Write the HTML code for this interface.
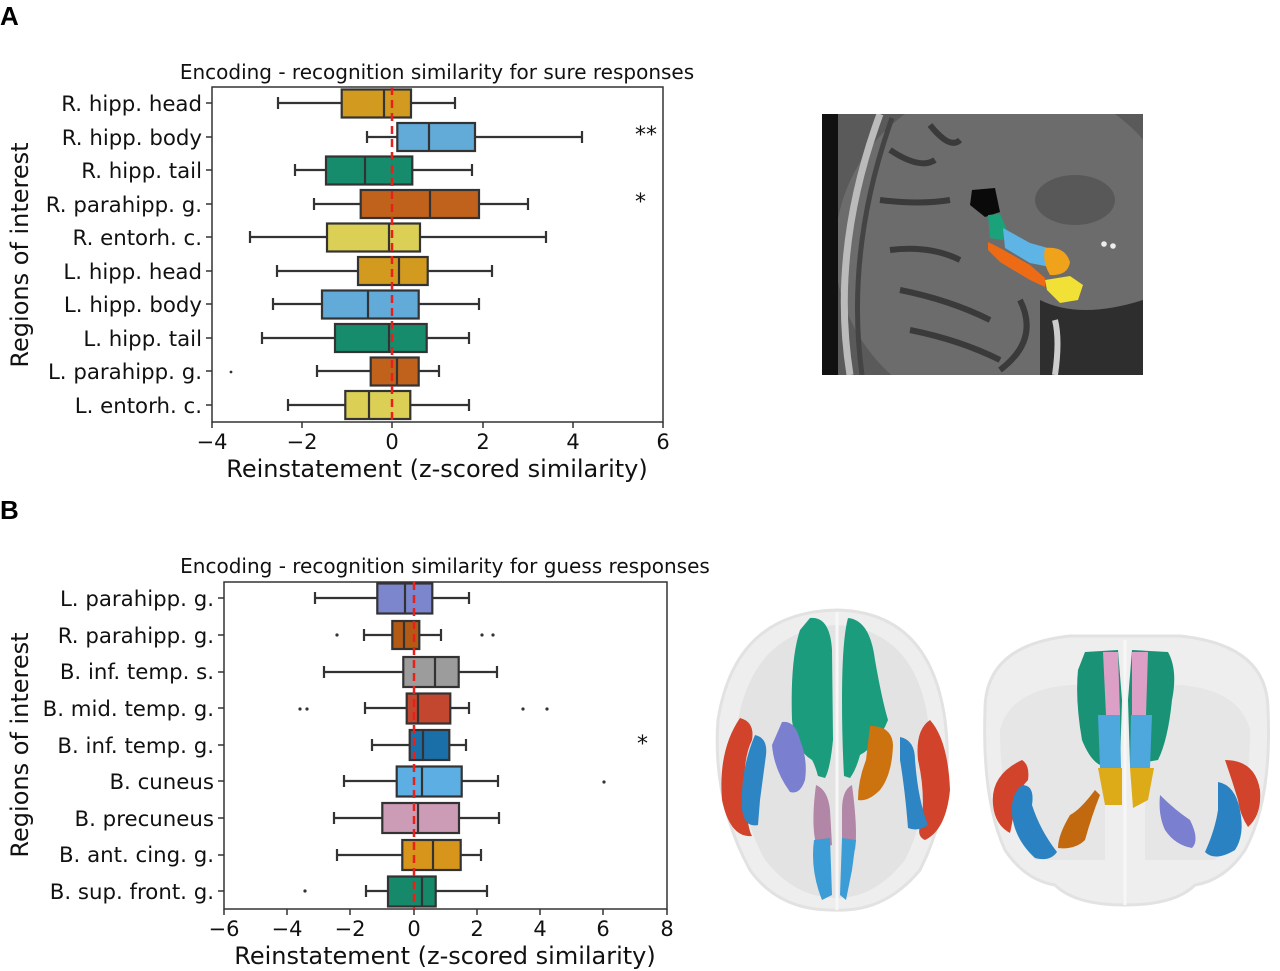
<!DOCTYPE html>
<html><head><meta charset="utf-8"><style>
html,body{margin:0;padding:0;background:#fff;}
svg{display:block;font-family:"DejaVu Sans","Liberation Sans",sans-serif;}
.lbl{font-size:21.3px;fill:#111;text-anchor:end;}
.tk{font-size:21px;fill:#111;text-anchor:middle;}
.bx{stroke:#333;stroke-width:2.2;}
.wh{stroke:#333;stroke-width:2.2;fill:none;}
</style></head><body>
<svg width="1280" height="971" viewBox="0 0 1280 971">
<defs><clipPath id="mc"><rect x="822" y="114" width="321" height="261"/></clipPath></defs>
<text x="0" y="25" font-size="26" font-weight="bold" font-family="Liberation Sans">A</text>
<text x="0" y="519" font-size="26" font-weight="bold" font-family="Liberation Sans">B</text>

<!-- Plot A -->
<text x="437" y="79" font-size="20" text-anchor="middle" fill="#111">Encoding - recognition similarity for sure responses</text>
<rect x="212" y="87" width="451" height="335" fill="none" stroke="#333" stroke-width="1.5"/>
<g class="lbl">
<text x="202" y="111">R. hipp. head</text>
<text x="202" y="145">R. hipp. body</text>
<text x="202" y="178">R. hipp. tail</text>
<text x="202" y="212">R. parahipp. g.</text>
<text x="202" y="245">R. entorh. c.</text>
<text x="202" y="279">L. hipp. head</text>
<text x="202" y="312">L. hipp. body</text>
<text x="202" y="346">L. hipp. tail</text>
<text x="202" y="379">L. parahipp. g.</text>
<text x="202" y="413">L. entorh. c.</text>
</g>
<g stroke="#333" stroke-width="1.5">
<line x1="206" x2="212" y1="103" y2="103"/><line x1="206" x2="212" y1="137" y2="137"/><line x1="206" x2="212" y1="170" y2="170"/><line x1="206" x2="212" y1="204" y2="204"/><line x1="206" x2="212" y1="237" y2="237"/><line x1="206" x2="212" y1="271" y2="271"/><line x1="206" x2="212" y1="304" y2="304"/><line x1="206" x2="212" y1="338" y2="338"/><line x1="206" x2="212" y1="371" y2="371"/><line x1="206" x2="212" y1="405" y2="405"/>
<line x1="212" x2="212" y1="422" y2="428"/><line x1="302" x2="302" y1="422" y2="428"/><line x1="392" x2="392" y1="422" y2="428"/><line x1="483" x2="483" y1="422" y2="428"/><line x1="573" x2="573" y1="422" y2="428"/><line x1="663" x2="663" y1="422" y2="428"/>
</g>
<g class="tk">
<text x="212" y="449">−4</text><text x="302" y="449">−2</text><text x="392" y="449">0</text><text x="483" y="449">2</text><text x="573" y="449">4</text><text x="663" y="449">6</text>
</g>
<text x="437" y="477" font-size="24" text-anchor="middle" fill="#111">Reinstatement (z-scored similarity)</text>
<text transform="translate(28,255) rotate(-90)" font-size="24" text-anchor="middle" fill="#111">Regions of interest</text>

<g>
<path class="wh" d="M278 103H341M411 103H455M278 97V109M455 97V109"/><rect class="bx" x="341.7" y="89.5" width="69.3" height="28" fill="#d29a1e"/><line class="wh" x1="384" x2="384" y1="89.5" y2="117.5"/>
<path class="wh" d="M367 137H397M475 137H582M367 131V143M582 131V143"/><rect class="bx" x="397.3" y="123" width="77.7" height="28" fill="#62abd9"/><line class="wh" x1="429" x2="429" y1="123" y2="151"/>
<path class="wh" d="M295 170H326M412 170H472M295 164V176M472 164V176"/><rect class="bx" x="326" y="156.5" width="86.3" height="28" fill="#168c6c"/><line class="wh" x1="365" x2="365" y1="156.5" y2="184.5"/>
<path class="wh" d="M314 204H361M479 204H528M314 198V210M528 198V210"/><rect class="bx" x="360.7" y="190" width="118.3" height="28" fill="#c1621c"/><line class="wh" x1="430" x2="430" y1="190" y2="218"/>
<path class="wh" d="M250 237H327M420 237H546M250 231V243M546 231V243"/><rect class="bx" x="327" y="223.5" width="93" height="28" fill="#dbd055"/><line class="wh" x1="389" x2="389" y1="223.5" y2="251.5"/>
<path class="wh" d="M277 271H358M428 271H492M277 265V277M492 265V277"/><rect class="bx" x="358" y="257" width="69.7" height="28" fill="#d29a1e"/><line class="wh" x1="399" x2="399" y1="257" y2="285"/>
<path class="wh" d="M273 304H322M419 304H479M273 298V310M479 298V310"/><rect class="bx" x="322" y="290.5" width="96.7" height="28" fill="#62abd9"/><line class="wh" x1="368" x2="368" y1="290.5" y2="318.5"/>
<path class="wh" d="M262 338H335M427 338H469M262 332V344M469 332V344"/><rect class="bx" x="335" y="324" width="91.7" height="28" fill="#168c6c"/><line class="wh" x1="389" x2="389" y1="324" y2="352"/>
<path class="wh" d="M317 371H371M419 371H439M317 365V377M439 365V377"/><rect class="bx" x="370.7" y="357.5" width="48" height="28" fill="#c1621c"/><line class="wh" x1="397" x2="397" y1="357.5" y2="385.5"/><circle cx="231" cy="372" r="1.4" fill="#333"/>
<path class="wh" d="M288 405H345M410 405H469M288 399V411M469 399V411"/><rect class="bx" x="345.3" y="391" width="65" height="28" fill="#dbd055"/><line class="wh" x1="369" x2="369" y1="391" y2="419"/>
</g>
<line x1="392" x2="392" y1="87" y2="422" stroke="#e8201a" stroke-width="2.5" stroke-dasharray="8,5"/>
<text x="635" y="142" font-size="22" fill="#111">**</text>
<text x="635" y="209" font-size="22" fill="#111">*</text>

<!-- MRI -->
<g clip-path="url(#mc)">
<rect x="822" y="114" width="321" height="261" fill="#5a5a5a"/>
<ellipse cx="1010" cy="250" rx="175" ry="170" fill="#6c6c6c"/>
<rect x="822" y="114" width="16" height="261" fill="#111"/>
<path d="M850 375 Q830 250 880 114" stroke="#bbb" stroke-width="7" fill="none"/>
<path d="M862 375 Q845 250 892 118" stroke="#444" stroke-width="5" fill="none"/>
<ellipse cx="1075" cy="200" rx="40" ry="25" fill="#585858"/>
<path d="M890 150 Q920 170 935 160 M930 125 Q950 150 960 140 M880 200 Q920 205 950 200 M890 250 Q930 245 960 260 M900 290 Q950 300 990 320 M910 330 Q960 340 1000 360 M1020 300 Q1040 340 1000 370" stroke="#3a3a3a" stroke-width="6" fill="none"/>
<path d="M1040 300 Q1080 320 1143 300 L1143 375 L1040 375Z" fill="#2e2e2e"/>
<path d="M1055 320 Q1060 340 1055 375" stroke="#ccc" stroke-width="6" fill="none"/>
</g>
<path d="M972 190 L995 188 L1000 212 L985 217 L970 205Z" fill="#0a0a0a"/>
<path d="M988 215 L1000 214 L1007 230 L1003 240 L990 238Z" fill="#1aa37a"/>
<path d="M1003 228 L1030 243 L1055 250 L1050 267 L1030 263 L1005 248Z" fill="#5fb4e6"/>
<path d="M988 242 L1000 248 L1030 265 L1045 278 L1045 287 L1030 280 L1000 262 L988 250Z" fill="#ee6b16"/>
<path d="M1045 248 Q1065 246 1070 262 Q1068 276 1050 275 Q1042 262 1045 248Z" fill="#efa21a"/>
<path d="M1045 280 L1070 276 L1083 285 L1078 300 L1060 303 L1047 290Z" fill="#f1e035"/>
<circle cx="1104" cy="244" r="2.8" fill="#eee"/><circle cx="1113" cy="246" r="2.8" fill="#eee"/>

<!-- Plot B -->
<text x="445" y="573" font-size="20" text-anchor="middle" fill="#111">Encoding - recognition similarity for guess responses</text>
<rect x="224" y="582" width="443" height="327" fill="none" stroke="#333" stroke-width="1.5"/>
<g class="lbl">
<text x="214" y="606">L. parahipp. g.</text>
<text x="214" y="643">R. parahipp. g.</text>
<text x="214" y="679">B. inf. temp. s.</text>
<text x="214" y="716">B. mid. temp. g.</text>
<text x="214" y="753">B. inf. temp. g.</text>
<text x="214" y="789">B. cuneus</text>
<text x="214" y="826">B. precuneus</text>
<text x="214" y="862">B. ant. cing. g.</text>
<text x="214" y="899">B. sup. front. g.</text>
</g>
<g stroke="#333" stroke-width="1.5">
<line x1="218" x2="224" y1="598" y2="598"/><line x1="218" x2="224" y1="635" y2="635"/><line x1="218" x2="224" y1="672" y2="672"/><line x1="218" x2="224" y1="708" y2="708"/><line x1="218" x2="224" y1="745" y2="745"/><line x1="218" x2="224" y1="781" y2="781"/><line x1="218" x2="224" y1="818" y2="818"/><line x1="218" x2="224" y1="855" y2="855"/><line x1="218" x2="224" y1="891" y2="891"/>
<line x1="224" x2="224" y1="909" y2="915"/><line x1="287" x2="287" y1="909" y2="915"/><line x1="350" x2="350" y1="909" y2="915"/><line x1="414" x2="414" y1="909" y2="915"/><line x1="477" x2="477" y1="909" y2="915"/><line x1="540" x2="540" y1="909" y2="915"/><line x1="603" x2="603" y1="909" y2="915"/><line x1="667" x2="667" y1="909" y2="915"/>
</g>
<g class="tk">
<text x="224" y="936">−6</text><text x="287" y="936">−4</text><text x="350" y="936">−2</text><text x="414" y="936">0</text><text x="477" y="936">2</text><text x="540" y="936">4</text><text x="603" y="936">6</text><text x="667" y="936">8</text>
</g>
<text x="445" y="964" font-size="24" text-anchor="middle" fill="#111">Reinstatement (z-scored similarity)</text>
<text transform="translate(28,745) rotate(-90)" font-size="24" text-anchor="middle" fill="#111">Regions of interest</text>

<g>
<path class="wh" d="M315 598H377M432 598H469M315 592V604M469 592V604"/><rect class="bx" x="377.3" y="583.5" width="55" height="30" fill="#7b86cc"/><line class="wh" x1="405" x2="405" y1="583.5" y2="613.5"/>
<path class="wh" d="M364 635H392M419 635H441M364 629V641M441 629V641"/><rect class="bx" x="392.3" y="621" width="27" height="28" fill="#b35a14"/><line class="wh" x1="404" x2="404" y1="621" y2="649"/>
<circle cx="337" cy="635" r="1.6" fill="#333"/><circle cx="482" cy="635" r="1.6" fill="#333"/><circle cx="493" cy="635" r="1.6" fill="#333"/>
<path class="wh" d="M324 672H403M459 672H497M324 666V678M497 666V678"/><rect class="bx" x="403.3" y="657" width="55.4" height="30" fill="#9c9c9c"/><line class="wh" x1="435" x2="435" y1="657" y2="687"/>
<path class="wh" d="M365 708H407M450 708H469M365 702V714M469 702V714"/><rect class="bx" x="406.7" y="693.5" width="43.6" height="30" fill="#c3472f"/><line class="wh" x1="418" x2="418" y1="693.5" y2="723.5"/>
<circle cx="300" cy="709" r="1.6" fill="#333"/><circle cx="307" cy="709" r="1.6" fill="#333"/><circle cx="523" cy="709" r="1.6" fill="#333"/><circle cx="547" cy="709" r="1.6" fill="#333"/>
<path class="wh" d="M372 745H410M449 745H466M372 739V751M466 739V751"/><rect class="bx" x="409.7" y="730" width="39.6" height="30" fill="#1b6fa9"/><line class="wh" x1="423" x2="423" y1="730" y2="760"/>
<path class="wh" d="M344 781H397M462 781H498M344 775V787M498 775V787"/><rect class="bx" x="396.7" y="766.5" width="65" height="30" fill="#5daee2"/><line class="wh" x1="422" x2="422" y1="766.5" y2="796.5"/><circle cx="604" cy="782" r="1.6" fill="#333"/>
<path class="wh" d="M334 818H382M459 818H499M334 812V824M499 812V824"/><rect class="bx" x="382.3" y="803" width="76.7" height="30" fill="#cc9cb6"/><line class="wh" x1="418" x2="418" y1="803" y2="833"/>
<path class="wh" d="M337 855H402M461 855H481M337 849V861M481 849V861"/><rect class="bx" x="402.3" y="840" width="58.4" height="30" fill="#d8951b"/><line class="wh" x1="433" x2="433" y1="840" y2="870"/>
<path class="wh" d="M366 891H388M436 891H487M366 885V897M487 885V897"/><rect class="bx" x="388" y="876.5" width="47.7" height="30" fill="#17896b"/><line class="wh" x1="422" x2="422" y1="876.5" y2="906.5"/><circle cx="305" cy="891" r="1.6" fill="#333"/>
</g>
<line x1="414" x2="414" y1="582" y2="909" stroke="#e8201a" stroke-width="2.5" stroke-dasharray="8,5"/>
<text x="637" y="751" font-size="22" fill="#111">*</text>

<!-- Brain 1 (axial) -->
<path d="M837 610 Q930 612 945 720 Q955 800 920 870 Q885 912 837 910 Q780 912 750 870 Q712 800 718 720 Q735 612 837 610Z" fill="#eeeeee" stroke="#e2e2e2" stroke-width="3"/>
<path d="M837 625 Q915 630 928 720 Q935 800 905 860 Q875 898 837 898 Q795 898 765 860 Q732 800 738 720 Q755 630 837 625Z" fill="#e3e3e3"/>
<line x1="837" y1="612" x2="837" y2="910" stroke="#f7f7f7" stroke-width="3"/>
<path d="M810 618 Q830 616 832 650 L833 740 Q830 770 825 778 L818 776 Q815 765 812 760 Q795 750 792 720 Q790 660 800 630Z" fill="#1b9c7d"/>
<path d="M848 618 Q870 620 875 660 Q882 700 888 720 Q878 745 860 755 Q856 770 850 778 L844 776 Q842 740 842 700 Q842 640 848 618Z" fill="#1b9c7d"/>
<path d="M782 722 Q795 720 800 740 Q808 760 805 780 Q800 795 790 792 Q774 770 772 745Z" fill="#7b7fcf"/>
<path d="M870 726 Q892 726 893 745 Q892 775 880 790 Q868 802 858 800 Q858 780 866 760Z" fill="#cc720f"/>
<path d="M740 718 Q755 722 752 740 Q742 760 745 800 Q748 830 752 836 Q730 838 722 800 Q718 750 740 718Z" fill="#d1432b"/>
<path d="M755 735 Q768 738 766 755 L760 800 L758 825 Q745 828 742 810 Q740 770 755 735Z" fill="#2d85c4"/>
<path d="M930 720 Q948 740 950 790 Q946 830 925 840 Q915 836 922 820 Q925 790 918 760 Q915 730 930 720Z" fill="#d1432b"/>
<path d="M900 737 Q915 740 915 760 Q918 800 928 825 Q918 832 908 828 Q905 790 900 760Z" fill="#2d85c4"/>
<path d="M816 785 Q828 790 830 810 L832 845 L818 850 Q810 830 816 785Z M852 785 Q842 790 842 810 L842 845 L855 850 Q858 830 852 785Z" fill="#b286a6"/>
<path d="M814 840 L830 838 L832 895 L822 900 Q810 870 814 840Z M842 838 L856 840 L852 870 L846 900 L840 895Z" fill="#3c9cd5"/>

<!-- Brain 2 (coronal) -->
<path d="M985 710 Q985 645 1070 636 L1180 636 Q1268 645 1268 710 Q1272 800 1245 850 Q1225 880 1195 885 Q1175 905 1125 905 Q1075 905 1055 885 Q1025 880 1005 850 Q982 800 985 710Z" fill="#eeeeee" stroke="#e2e2e2" stroke-width="3"/>
<path d="M1000 730 Q1010 690 1070 685 L1105 685 L1105 860 L1035 860 Q1000 820 1000 730Z" fill="#e6e6e6"/>
<path d="M1250 730 Q1240 690 1180 685 L1145 685 L1145 860 L1215 860 Q1250 820 1250 730Z" fill="#e6e6e6"/>
<line x1="1125" y1="640" x2="1125" y2="905" stroke="#f7f7f7" stroke-width="3"/>
<path d="M1085 652 L1118 650 L1122 700 L1120 765 L1100 765 Q1090 760 1082 740 Q1075 700 1078 670Z" fill="#1a9276"/>
<path d="M1132 650 L1168 652 Q1178 670 1172 700 Q1168 740 1158 760 L1130 765 L1128 700Z" fill="#1a9276"/>
<path d="M1103 652 L1118 652 L1120 715 L1106 715Z M1132 652 L1148 652 L1146 715 L1132 715Z" fill="#dc9fc6"/>
<path d="M1098 715 L1120 715 L1121 768 L1100 768Z M1131 715 L1152 715 L1150 768 L1130 768Z" fill="#4ea7dd"/>
<path d="M1098 768 L1122 768 L1122 805 L1105 805Z M1130 768 L1154 768 L1148 800 L1133 808Z" fill="#deab18"/>
<path d="M1095 790 Q1080 810 1070 815 Q1058 835 1058 848 Q1075 850 1085 840 Q1092 815 1100 795Z" fill="#c2690f"/>
<path d="M1160 795 Q1175 810 1190 820 Q1200 840 1192 848 Q1175 845 1165 830 Q1158 815 1160 795Z" fill="#7b7fcf"/>
<path d="M1022 760 Q1030 765 1028 780 Q1018 790 1015 805 Q1012 825 1010 833 Q995 825 993 805 Q990 775 1022 760Z" fill="#d1432b"/>
<path d="M1022 785 Q1035 785 1032 805 Q1040 830 1057 852 Q1050 862 1035 858 Q1015 840 1012 815 Q1010 795 1022 785Z" fill="#2a82c2"/>
<path d="M1225 760 Q1255 760 1260 790 Q1262 815 1248 827 Q1240 815 1238 800 Q1232 780 1225 760Z" fill="#d1432b"/>
<path d="M1218 782 Q1235 785 1240 810 Q1245 835 1235 850 Q1215 862 1205 852 Q1215 830 1218 810Z" fill="#2a82c2"/>
</svg>
</body></html>
